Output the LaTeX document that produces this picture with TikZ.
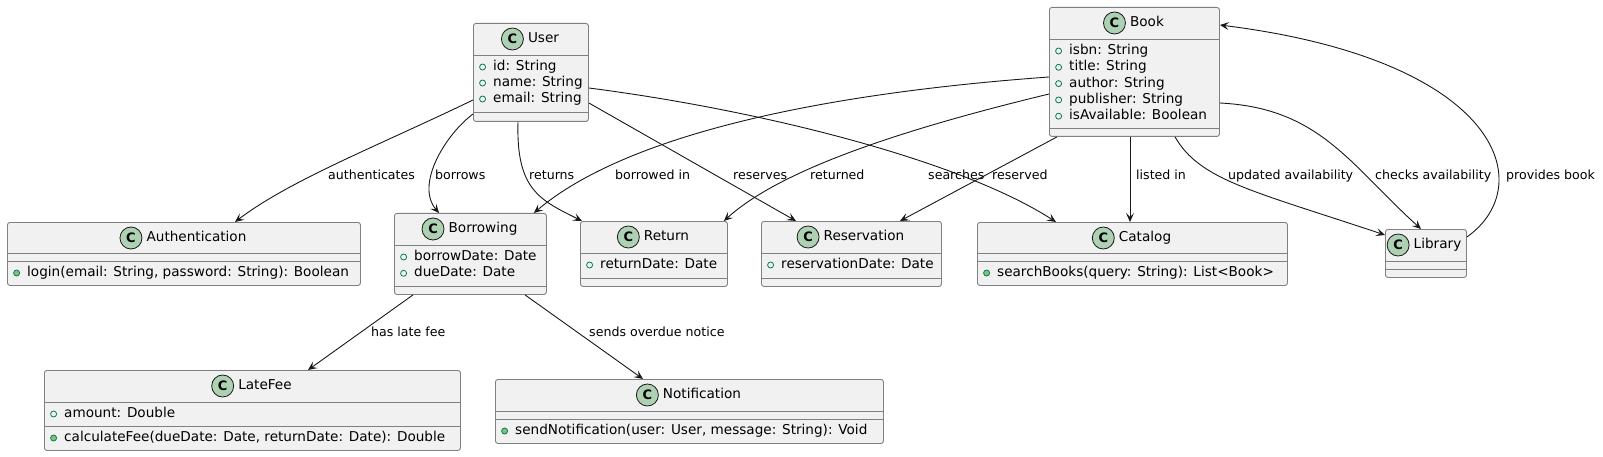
\documentclass[tikz,border=0pt]{standalone}
\usepackage{fontspec}
\setmainfont{DejaVu Sans}
\usepackage{tikz}
\usetikzlibrary{arrows.meta}
\definecolor{boxfill}{HTML}{F1F1F1}
\definecolor{badgefill}{HTML}{ADD1B2}
\definecolor{pubgreen}{HTML}{038048}
\definecolor{methfill}{HTML}{84BE84}
\definecolor{edge}{HTML}{181818}

\begin{document}
\begin{tikzpicture}[x=1pt,y=-1pt,>={Stealth[length=9pt,width=8pt,inset=4pt]},
	cls/.style={draw=black!50,fill=boxfill,line width=0.9pt,rounded corners=2.5pt,anchor=north west,inner sep=0pt},
	sep/.style={draw=black!50,line width=0.9pt},
	badge/.style={circle,draw=edge,fill=badgefill,line width=0.8pt,minimum size=22pt,inner sep=0pt,font=\fontsize{13}{15}\selectfont\bfseries,label distance=4pt},
	cname/.style={font=\fontsize{13.6}{16}\selectfont,inner sep=0pt,text height=10pt,text depth=3pt,label={[badge]left:C}},
	mbr/.style={anchor=west,font=\fontsize{13.6}{16}\selectfont,inner sep=0pt,text height=10pt,text depth=3pt},
	fmark/.style={circle,draw=pubgreen,line width=0.8pt,minimum size=6pt,inner sep=0pt,label distance=7pt},
	mmark/.style={fmark,fill=methfill},
	fld/.style={mbr,label={[fmark]left:{}}},
	mth/.style={mbr,label={[mmark]left:{}}},
	lbl/.style={anchor=west,font=\fontsize{12.6}{15}\selectfont,inner sep=0pt,text height=9.5pt,text depth=2.5pt},
	dep/.style={->,draw=edge,line width=0.9pt}]
	\useasboundingbox (0,0) rectangle (1603,457);

	% class boxes
	\node[cls,minimum width=115,minimum height=98] (user) at (473,23) {};
	\node[cls,minimum width=170,minimum height=129] (book) at (1049,7) {};
	\node[cls,minimum width=353,minimum height=63] (auth) at (7,222) {};
	\node[cls,minimum width=152,minimum height=81] (borrow) at (394,213) {};
	\node[cls,minimum width=147,minimum height=65] (ret) at (580,221) {};
	\node[cls,minimum width=180,minimum height=65] (resv) at (761,221) {};
	\node[cls,minimum width=310,minimum height=63] (cat) at (977,222) {};
	\node[cls,minimum width=81,minimum height=48] (lib) at (1385,229) {};
	\node[cls,minimum width=416,minimum height=80] (fee) at (44,370) {};
	\node[cls,minimum width=388,minimum height=64] (note) at (495,379) {};
	\foreach \c/\d in {user/32,user/89,book/32,book/121,auth/31,auth/39,borrow/32,borrow/73.5,ret/32,ret/57,resv/32,resv/57,cat/31,cat/39,lib/32,lib/40,fee/32,fee/56,note/32,note/40}
		\draw[sep] ([yshift=-\d]\c.north west) -- ([yshift=-\d]\c.north east);

	% headers
	\node[cname] (userT) at (543.5,39) {User};
	\node[cname] (bookT) at (1147,23) {Book};
	\node[cname] (authT) at (196.5,238) {Authentication};
	\node[cname] (borrowT) at (483,229) {Borrowing};
	\node[cname] (retT) at (666.5,237) {Return};
	\node[cname] (resvT) at (864,237) {Reservation};
	\node[cname] (catT) at (1145,238) {Catalog};
	\node[cname] (libT) at (1437.5,245) {Library};
	\node[cname] (feeT) at (265,386) {LateFee};
	\node[cname] (noteT) at (702,395) {Notification};

	% members
	\node[fld] (userA) at (493,67) {id: String};
	\node[fld] (userB) at (493,83) {name: String};
	\node[fld] (userC) at (493,99) {email: String};
	\node[fld] (bookA) at (1069,51) {isbn: String};
	\node[fld] (bookB) at (1069,67.3) {title: String};
	\node[fld] (bookC) at (1069,83.6) {author: String};
	\node[fld] (bookD) at (1069,99.9) {publisher: String};
	\node[fld] (bookE) at (1069,116.2) {isAvailable: Boolean};
	\node[mth] (authM) at (27,273) {login(email: String, password: String): Boolean};
	\node[fld] (borrowA) at (414,257) {borrowDate: Date};
	\node[fld] (borrowB) at (414,273.3) {dueDate: Date};
	\node[fld] (retA) at (600,265) {returnDate: Date};
	\node[fld] (resvA) at (781,265) {reservationDate: Date};
	\node[mth] (catM) at (997,273) {searchBooks(query: String): List<Book>};
	\node[fld] (feeA) at (64,414) {amount: Double};
	\node[mth] (feeM) at (64,438) {calculateFee(dueDate: Date, returnDate: Date): Double};
	\node[mth] (noteM) at (515,431) {sendNotification(user: User, message: String): Void};

	% relations
	\draw[dep] ([shift={(0,77)}]user.north west) .. controls (380,145) and (290,180) .. ([shift={(228,0)}]auth.north west);
	\draw[dep] ([shift={(0,91)}]user.north west) .. controls (445,135) and (415,185) .. ([shift={(45,0)}]borrow.north west);
	\draw[dep] ([shift={(45,0)}]user.south west) .. controls (516,190) and (540,200) .. ([shift={(2,0)}]ret.north west);
	\draw[dep] ([shift={(0,80)}]user.north east) -- ([shift={(35,0)}]resv.north west);
	\draw[dep] ([shift={(0,65)}]user.north east) .. controls (760,110) and (960,160) .. ([shift={(79,0)}]cat.north west);
	\draw[dep] ([shift={(0,70)}]book.north west) .. controls (800,95) and (620,140) .. ([shift={(-13,0)}]borrow.north east);
	\draw[dep] ([shift={(0,87)}]book.north west) .. controls (900,130) and (780,170) .. ([shift={(-4,0)}]ret.north east);
	\draw[dep] ([shift={(8,0)}]book.south west) -- ([shift={(139,0)}]resv.north west);
	\draw[dep] ([shift={(81,0)}]book.south west) -- ([shift={(153,0)}]cat.north west);
	\draw[dep] ([shift={(126,0)}]book.south west) .. controls (1200,180) and (1250,190) .. ([shift={(0,6)}]lib.north west);
	\draw[dep] ([shift={(0,96)}]book.north east) .. controls (1320,108) and (1350,165) .. ([shift={(36,0)}]lib.north west);
	\draw[dep] ([shift={(0,8)}]lib.north east) .. controls (1540,185) and (1500,60) .. ([shift={(0,18)}]book.north east);
	\draw[dep] ([shift={(19,0)}]borrow.south west) -- ([shift={(264,0)}]fee.north west);
	\draw[dep] ([shift={(131,0)}]borrow.south west) -- ([shift={(148,0)}]note.north west);

	% relation labels
	\node[lbl] (lAuth) at (328,176) {authenticates};
	\node[lbl] (lBorrows) at (435,176) {borrows};
	\node[lbl] (lReturns) at (529,176) {returns};
	\node[lbl] (lBorrowedIn) at (615,176) {borrowed in};
	\node[lbl] (lReserves) at (733,176) {reserves};
	\node[lbl] (lReturned) at (810,176) {returned};
	\node[lbl] (lSearches) at (928,176) {searches};
	\node[lbl] (lReserved) at (992,176) {reserved};
	\node[lbl] (lListed) at (1136,176) {listed in};
	\node[lbl] (lUpdated) at (1228,176) {updated availability};
	\node[lbl] (lChecks) at (1375,176) {checks availability};
	\node[lbl] (lProvides) at (1506,176) {provides book};
	\node[lbl] (lFee) at (371,333) {has late fee};
	\node[lbl] (lNotice) at (589,333) {sends overdue notice};
\end{tikzpicture}
\end{document}
